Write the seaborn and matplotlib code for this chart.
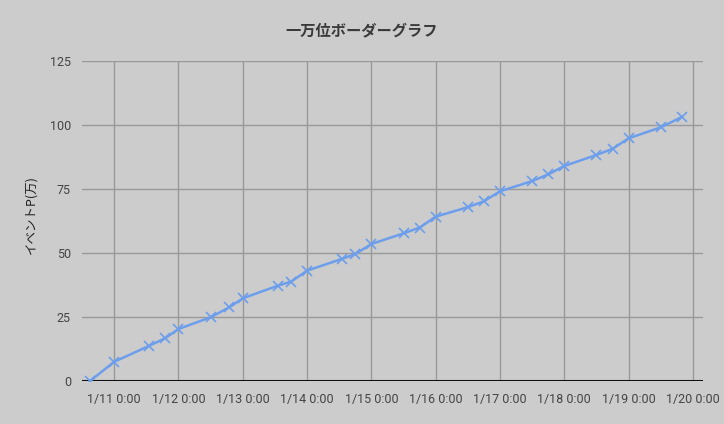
import pandas as pd
import numpy as np
import matplotlib
matplotlib.use('Agg')
import matplotlib.pyplot as plt
import matplotlib.dates as mdates
from matplotlib.ticker import FuncFormatter
import seaborn as sns

# データ (読み取り値)
times = [
    '2019-01-10 15:00', '2019-01-11 00:00', '2019-01-11 13:00', '2019-01-11 19:00',
    '2019-01-12 00:00', '2019-01-12 12:00', '2019-01-12 19:00',
    '2019-01-13 00:00', '2019-01-13 13:00', '2019-01-13 18:00',
    '2019-01-14 00:00', '2019-01-14 13:00', '2019-01-14 18:00',
    '2019-01-15 00:00', '2019-01-15 12:00', '2019-01-15 18:00',
    '2019-01-16 00:00', '2019-01-16 12:00', '2019-01-16 18:00',
    '2019-01-17 00:00', '2019-01-17 12:00', '2019-01-17 18:00',
    '2019-01-18 00:00', '2019-01-18 12:00', '2019-01-18 18:00',
    '2019-01-19 00:00', '2019-01-19 12:00', '2019-01-19 20:00',
]
points = [
    0.0, 7.5, 13.7, 16.7,
    20.3, 24.9, 28.8,
    32.3, 37.2, 38.8,
    43.1, 47.7, 49.6,
    53.5, 57.7, 59.9,
    64.2, 67.9, 70.2,
    74.1, 78.1, 80.7,
    84.0, 88.3, 90.7,
    94.8, 99.1, 103.2,
]
y_ticks = [0, 25, 50, 75, 100, 125]
x_ticks = pd.date_range('2019-01-11', '2019-01-20', freq='D')

df = pd.DataFrame({'time': pd.to_datetime(times), 'pt': points})

sns.set_theme(style='white')
plt.rcParams['font.family'] = ['Roboto', 'Noto Sans CJK JP', 'DejaVu Sans']

bg = '#cccccc'
fig = plt.figure(figsize=(7.24, 4.24), dpi=100, facecolor=bg)
ax = fig.add_axes([82 / 724, 1 - 381 / 424, 621 / 724, 320 / 424])
ax.set_facecolor(bg)

sns.lineplot(data=df, x='time', y='pt', ax=ax, color='#6d9eeb', linewidth=1.8,
             marker='x', markersize=6.5, markeredgewidth=1.2, markeredgecolor='#6d9eeb')

ax.set_xlim(pd.Timestamp('2019-01-10 12:00'), pd.Timestamp('2019-01-20 03:45'))
ax.set_ylim(0, 125)
ax.set_yticks(y_ticks)
ax.set_xticks(x_ticks)
ax.xaxis.set_major_formatter(FuncFormatter(
    lambda v, pos: (lambda d: f'{d.month}/{d.day} {d.hour}:{d.minute:02d}')(mdates.num2date(v))))

ax.grid(True, color='#999999', linewidth=1)
ax.set_axisbelow(True)
ax.axhline(0, color='#111111', linewidth=1.5, zorder=1)
for s in ax.spines.values():
    s.set_visible(False)
ax.tick_params(axis='both', length=0, labelsize=9, colors='#444444', pad=8)
ax.tick_params(axis='x', pad=9)

ax.set_xlabel('')
ax.set_ylabel('イベントP(万)', fontsize=9, color='#222222', labelpad=18,
              family=['Noto Sans CJK JP', 'DejaVu Sans'])
ax.yaxis.set_label_coords(-0.072, 0.52)

fig.text(0.5, 1 - 30 / 424, '一万位ボーダーグラフ', ha='center', va='center',
         fontsize=11, fontweight='bold', color='#3a3a3a',
         family=['Noto Sans CJK JP', 'DejaVu Sans'])

plt.savefig('out.png', dpi=100, facecolor=bg)
plt.close()
